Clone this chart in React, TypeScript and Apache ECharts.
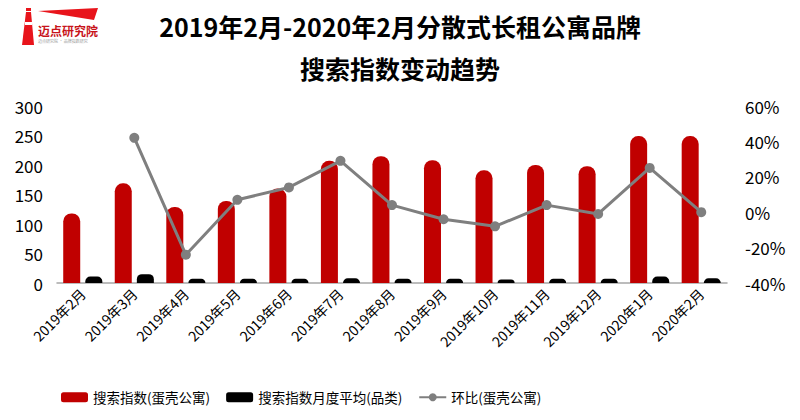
import React, { useEffect, useRef } from "react";
import * as echarts from "echarts";

const categories = ["2019年2月","2019年3月","2019年4月","2019年5月","2019年6月","2019年7月","2019年8月","2019年9月","2019年10月","2019年11月","2019年12月","2020年1月","2020年2月"];
const searchIndex = [118, 169, 129, 139, 160, 207, 215, 208, 191, 200, 198, 249, 249];
const categoryAvg = [11, 15, 7, 7, 7, 8, 7, 7, 6, 7, 7, 11, 8];
const momChange = [null, 42, -24, 7, 14, 29, 4, -4, -8, 4, -1, 25, 0];
const seriesNames = ["搜索指数(蛋壳公寓)", "搜索指数月度平均(品类)", "环比(蛋壳公寓)"];

export default function App() {
  const ref = useRef<HTMLDivElement>(null);
  useEffect(() => {
    const chart = echarts.init(ref.current!, null, { renderer: "svg" });
    const font = "'Noto Sans CJK SC', 'Noto Sans', sans-serif";
    chart.setOption({
      animation: false,
      textStyle: { fontFamily: font },
      title: {
        text: "2019年2月-2020年2月分散式长租公寓品牌\n搜索指数变动趋势",
        left: "center",
        top: 0,
        textStyle: { fontSize: 25, fontWeight: "bold", color: "#000", lineHeight: 42, fontFamily: font },
      },
      graphic: [
        { type: "polygon", shape: { points: [[38, 11], [98, 8], [94, 20]] }, style: { fill: "#e8141b" } },
        { type: "polygon", shape: { points: [[26, 12], [31, 12], [34, 45], [22, 45]] }, style: { fill: "#e8141b" } },
        { type: "rect", shape: { x: 26, y: 7, width: 5, height: 4 }, style: { fill: "#e8141b" } },
        { type: "rect", shape: { x: 25, y: 22, width: 7, height: 3 }, style: { fill: "#fff" } },
        { type: "text", style: { x: 38, y: 24, text: "迈点研究院", fill: "#c8141b", font: "bold 12px " + font } },
        { type: "text", style: { x: 38, y: 39, text: "迈点研究院 · 品牌指数研究", fill: "#999", font: "4px " + font } },
      ],
      grid: { left: 57, right: 73, top: 106, bottom: 137 },
      legend: {
        bottom: 11,
        left: 56,
        itemGap: 16,
        itemWidth: 27,
        itemHeight: 10,
        textStyle: { fontSize: 13.5, color: "#000", fontFamily: font },
        data: [
          { name: seriesNames[0], icon: "roundRect" },
          { name: seriesNames[1], icon: "roundRect" },
          { name: seriesNames[2] },
        ],
      },
      xAxis: {
        type: "category",
        data: categories,
        axisLine: { lineStyle: { color: "#a6a6a6", width: 1.5 } },
        axisTick: { show: false },
        axisLabel: { rotate: 45, fontSize: 14, color: "#000", margin: 8, interval: 0, fontFamily: font },
      },
      yAxis: [
        {
          type: "value", min: 0, max: 300, interval: 50,
          splitLine: { show: false }, axisLine: { show: false }, axisTick: { show: false },
          axisLabel: { fontSize: 17, color: "#000", margin: 14 },
        },
        {
          type: "value", min: -40, max: 60, interval: 20,
          splitLine: { show: false }, axisLine: { show: false }, axisTick: { show: false },
          axisLabel: { fontSize: 17, color: "#000", formatter: "{value}%", margin: 18 },
        },
      ],
      series: [
        {
          name: seriesNames[0], type: "bar", data: searchIndex, barWidth: 17, barGap: "30%",
          itemStyle: { color: "#c00000", borderRadius: [8, 8, 0, 0] },
        },
        {
          name: seriesNames[1], type: "bar", data: categoryAvg, barWidth: 17,
          itemStyle: { color: "#000", borderRadius: [5, 5, 0, 0] },
        },
        {
          name: seriesNames[2], type: "line", yAxisIndex: 1, data: momChange,
          symbol: "circle", symbolSize: 10,
          lineStyle: { color: "#7f7f7f", width: 3 },
          itemStyle: { color: "#7f7f7f" },
        },
      ],
    });
    return () => chart.dispose();
  }, []);
  return <div ref={ref} style={{ width: 800, height: 420, margin: -8 }} />;
}
